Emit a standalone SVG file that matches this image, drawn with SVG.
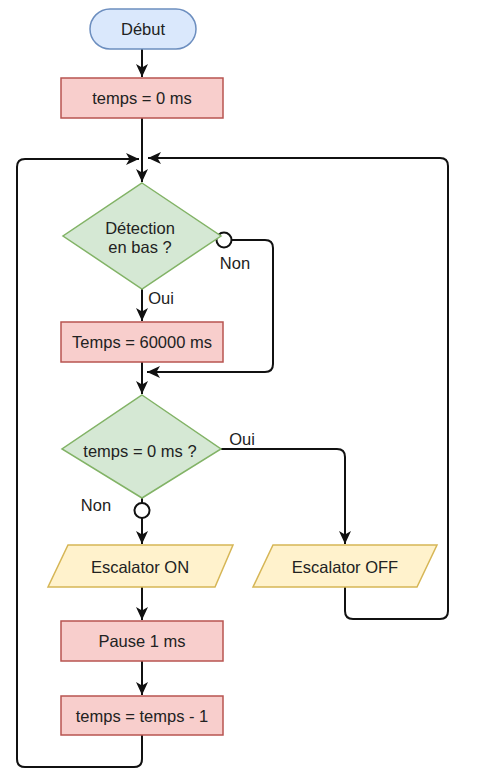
<svg xmlns="http://www.w3.org/2000/svg" width="477" height="774" viewBox="0 0 477 774">
<style>
text{font-family:"Liberation Sans",Arial,sans-serif;font-size:16.5px;fill:#222;text-anchor:middle;dominant-baseline:central}
.blue{fill:#dae8fc;stroke:#6c8ebf;stroke-width:1.5}
.red{fill:#f8cecc;stroke:#b85450;stroke-width:1.5}
.green{fill:#d5e8d4;stroke:#82b366;stroke-width:1.5}
.yellow{fill:#fff2cc;stroke:#d6b656;stroke-width:1.5}
.edge{fill:none;stroke:#111;stroke-width:2;stroke-linejoin:round}
.dot{fill:#fff;stroke:#111;stroke-width:2}
</style>
<defs>
<marker id="arr" markerUnits="userSpaceOnUse" markerWidth="14" markerHeight="12" refX="13" refY="6" orient="auto">
<path d="M0,0 L13,6 L0,12 L3.5,6 z" fill="#111"/>
</marker>
</defs>
<rect width="477" height="774" fill="#fff"/>
<g id="connectors">
<path class="edge" d="M142,49 V77" marker-end="url(#arr)"/>
<path class="edge" d="M142,118 V182" marker-end="url(#arr)"/>
<path class="edge" d="M142,735 V759 Q142,767 134,767 H25 Q17,767 17,759 V167 Q17,159 25,159 H139" marker-end="url(#arr)"/>
<path class="edge" d="M345,587 V611 Q345,619 353,619 H440 Q448,619 448,611 V166 Q448,158 440,158 H148" marker-end="url(#arr)"/>
<path class="edge" d="M142,289 V321" marker-end="url(#arr)"/>
<path class="edge" d="M231,240 H265 Q273,240 273,248 V364 Q273,372 265,372 H147" marker-end="url(#arr)"/>
<circle class="dot" cx="224" cy="240" r="7.5"/>
<path class="edge" d="M142,362 V394" marker-end="url(#arr)"/>
<path class="edge" d="M221,449 H337 Q345,449 345,457 V544" marker-end="url(#arr)"/>
<path class="edge" d="M142,498 V503"/>
<path class="edge" d="M142,518 V544" marker-end="url(#arr)"/>
<circle class="dot" cx="142" cy="510.5" r="7.5"/>
<path class="edge" d="M142,587 V620" marker-end="url(#arr)"/>
<path class="edge" d="M142,661 V695" marker-end="url(#arr)"/>
<text x="235" y="263">Non</text>
<text x="161" y="298">Oui</text>
<text x="242" y="439">Oui</text>
<text x="96" y="505">Non</text>
</g>
<g id="debut">
<rect class="blue" x="90" y="9" width="106" height="40" rx="20" ry="20"/>
<text x="143" y="29">Début</text>
</g>
<g id="init">
<rect class="red" x="61" y="78" width="162" height="40"/>
<text x="142" y="98">temps = 0 ms</text>
</g>
<g id="detection">
<path class="green" d="M142,183 L221,236 L142,289 L63,236 Z"/>
<text x="140" y="228">Détection</text>
<text x="140" y="247">en bas ?</text>
</g>
<g id="set60000">
<rect class="red" x="61" y="322" width="162" height="40"/>
<text x="142" y="342">Temps = 60000 ms</text>
</g>
<g id="test0">
<path class="green" d="M142,395 L221,449 L142,498 L62,449 Z"/>
<text x="140" y="451">temps = 0 ms ?</text>
</g>
<g id="escon">
<path class="yellow" d="M68,545 H233 L215,587 H48 Z"/>
<text x="140" y="567">Escalator ON</text>
</g>
<g id="escoff">
<path class="yellow" d="M273,545 H437 L417,587 H253 Z"/>
<text x="345" y="567">Escalator OFF</text>
</g>
<g id="pause">
<rect class="red" x="61" y="621" width="162" height="40"/>
<text x="142" y="641">Pause 1 ms</text>
</g>
<g id="decr">
<rect class="red" x="61" y="696" width="162" height="39"/>
<text x="142" y="715.5">temps = temps - 1</text>
</g>
</svg>
